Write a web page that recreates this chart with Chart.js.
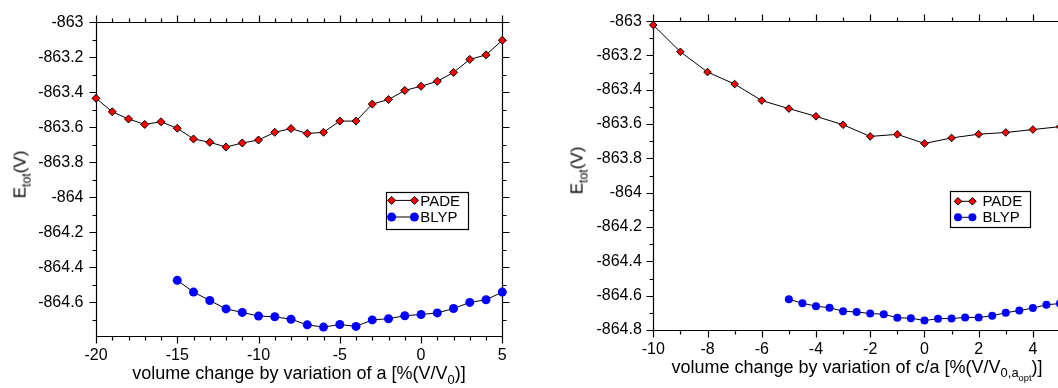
<!DOCTYPE html>
<html><head><meta charset="utf-8">
<script src="https://cdn.jsdelivr.net/npm/chart.js@4.4.1/dist/chart.umd.min.js"></script>
<style>
html,body{margin:0;padding:0;background:#fff;width:1058px;height:388px;overflow:hidden;position:relative;font-family:'Liberation Sans',Arial,sans-serif;}
.wrap{position:absolute;top:0;height:388px;}
.t{position:absolute;white-space:nowrap;color:#000;}
.xt{font-size:18px;line-height:18px;text-align:center;}
.yt{font-size:17px;line-height:17px;text-align:center;width:80px;height:17px;transform:rotate(-90deg);transform-origin:center center;}
sub{font-size:72%;vertical-align:baseline;position:relative;top:0.38em;}
</style></head><body>
<div class="wrap" style="left:0;width:529px"><canvas id="c1" width="529" height="388"></canvas></div>
<div class="wrap" style="left:529px;width:560px"><canvas id="c2" width="560" height="388"></canvas></div>
<div class="t xt" style="left:0;width:598px;top:364px">volume change by variation of a [%(V/V<sub>0</sub>)]</div>
<div class="t xt" style="left:557px;width:600px;top:357.5px">volume change by variation of c/a [%(V/V<sub>0,a<sub>opt</sub></sub>)]</div>
<div class="t yt" style="left:-20.3px;top:165.5px">E<sub>tot</sub>(V)</div>
<div class="t yt" style="left:537px;top:161.5px">E<sub>tot</sub>(V)</div>
<script>
// ---- data (left: variation of a) ----
const leftPadeX = [-20,-19,-18,-17,-16,-15,-14,-13,-12,-11,-10,-9,-8,-7,-6,-5,-4,-3,-2,-1,0,1,2,3,4,5];
const leftPade  = [-863.435,-863.512,-863.553,-863.584,-863.569,-863.606,-863.667,-863.686,-863.713,-863.690,-863.673,-863.629,-863.608,-863.636,-863.629,-863.565,-863.565,-863.468,-863.442,-863.390,-863.366,-863.338,-863.287,-863.213,-863.187,-863.104];
const leftBlypX = [-15,-14,-13,-12,-11,-10,-9,-8,-7,-6,-5,-4,-3,-2,-1,0,1,2,3,4,5];
const leftBlyp  = [-864.474,-864.541,-864.589,-864.637,-864.657,-864.678,-864.682,-864.696,-864.728,-864.741,-864.726,-864.737,-864.700,-864.693,-864.676,-864.669,-864.660,-864.635,-864.600,-864.585,-864.541];
// ---- data (right: variation of c/a) ----
const rightPadeX = [-10,-9,-8,-7,-6,-5,-4,-3,-2,-1,0,1,2,3,4,5];
const rightPade  = [-863.023,-863.179,-863.297,-863.367,-863.463,-863.510,-863.555,-863.604,-863.672,-863.660,-863.713,-863.681,-863.659,-863.649,-863.632,-863.615];
const rightBlypX = [-5,-4.5,-4,-3.5,-3,-2.5,-2,-1.5,-1,-0.5,0,0.5,1,1.5,2,2.5,3,3.5,4,4.5,5];
const rightBlyp  = [-864.621,-864.644,-864.661,-864.670,-864.691,-864.695,-864.704,-864.708,-864.729,-864.731,-864.745,-864.734,-864.733,-864.727,-864.727,-864.717,-864.699,-864.687,-864.672,-864.653,-864.646];
// ---- tick labels ----
const leftXTicks  = [-20,-15,-10,-5,0,5];
const leftYTicks  = [-863,-863.2,-863.4,-863.6,-863.8,-864,-864.2,-864.4,-864.6];
const rightXTicks = [-10,-8,-6,-4,-2,0,2,4];
const rightYTicks = [-863,-863.2,-863.4,-863.6,-863.8,-864,-864.2,-864.4,-864.6,-864.8];
const seriesNames = ['PADE','BLYP'];

const FONT = "'Liberation Sans', Arial, sans-serif";

const pts = (xs, ys) => xs.map((x, i) => ({x, y: ys[i]}));

const framePlugin = {
  id: 'frame',
  beforeDatasetsDraw(chart, args, o) {
    const ctx = chart.ctx, a = chart.chartArea, xs = chart.scales.x, ys = chart.scales.y;
    ctx.save();
    ctx.strokeStyle = '#000'; ctx.lineWidth = 1.2;
    const L = Math.round(a.left) + 0.5, R = Math.round(a.right) + 0.5, T = Math.round(a.top) + 0.5, B = Math.round(a.bottom) + 0.5;
    ctx.beginPath();
    ctx.rect(L, T, R - L, B - T);
    const isMaj = (v, m) => Math.abs(v / m - Math.round(v / m)) < 1e-6;
    for (let k = Math.ceil(xs.min / o.xMinor - 1e-9); k * o.xMinor <= xs.max + 1e-9; k++) {
      const v = k * o.xMinor, len = isMaj(v, o.xMajor) ? o.maj : o.min;
      const px = Math.round(xs.getPixelForValue(v)) + 0.5;
      ctx.moveTo(px, B); ctx.lineTo(px, B + len);
      ctx.moveTo(px, T); ctx.lineTo(px, T - len);
    }
    for (let k = Math.ceil(ys.min / o.yMinor - 1e-9); k * o.yMinor <= ys.max + 1e-9; k++) {
      const v = k * o.yMinor, len = isMaj(v, o.yMajor) ? o.maj : o.min;
      const py = Math.round(ys.getPixelForValue(v)) + 0.5;
      ctx.moveTo(L, py); ctx.lineTo(L - len, py);
      ctx.moveTo(R, py); ctx.lineTo(R + len, py);
    }
    ctx.stroke();
    ctx.restore();
  }
};

const legendPlugin = {
  id: 'boxLegend',
  afterDraw(chart, args, o) {
    const ctx = chart.ctx, a = chart.chartArea;
    const x0 = Math.round(a.left + o.dx), y0 = Math.round(a.top + o.dy);
    ctx.save();
    ctx.fillStyle = '#fff'; ctx.fillRect(x0, y0, o.w, o.h);
    ctx.strokeStyle = '#000'; ctx.lineWidth = 1.2; ctx.strokeRect(x0 + 0.5, y0 + 0.5, o.w, o.h);
    chart.data.datasets.forEach((ds, i) => {
      const y = y0 + o.rows[i];
      const xa = x0 + o.m1, xb = x0 + o.m2;
      ctx.strokeStyle = '#000'; ctx.lineWidth = 1;
      ctx.beginPath(); ctx.moveTo(xa, y); ctx.lineTo(xb, y); ctx.stroke();
      [xa, xb].forEach(px => {
        ctx.fillStyle = ds.pointBackgroundColor;
        ctx.strokeStyle = ds.pointBorderColor;
        ctx.lineWidth = ds.pointBorderWidth;
        Chart.helpers.drawPoint(ctx, {pointStyle: ds.pointStyle, radius: ds.pointRadius, borderWidth: ds.pointBorderWidth, rotation: 0}, px, y);
      });
      ctx.fillStyle = '#000';
      ctx.font = o.font + 'px ' + FONT;
      ctx.textBaseline = 'middle'; ctx.textAlign = 'left';
      ctx.fillText(ds.label, x0 + o.tx, y + 1);
    });
    ctx.restore();
  }
};

function labelFmt(v) { return String(Math.round(v * 10) / 10); }

function makeChart(id, cfg) {
  return new Chart(document.getElementById(id), {
    type: 'line',
    data: {
      datasets: [
        {label: seriesNames[0], data: pts(cfg.padeX, cfg.pade), borderColor: '#000', borderWidth: 1,
         pointStyle: 'rectRot', pointRadius: cfg.rPade, pointBackgroundColor: '#ff0000', pointBorderColor: '#000', pointBorderWidth: 1,
         tension: 0, clip: false},
        {label: seriesNames[1], data: pts(cfg.blypX, cfg.blyp), borderColor: '#000', borderWidth: 1,
         pointStyle: 'circle', pointRadius: cfg.rBlyp, pointBackgroundColor: '#0000ff', pointBorderColor: '#0000ff', pointBorderWidth: 0,
         tension: 0, clip: false}
      ]
    },
    options: {
      responsive: false, animation: false, events: [],
      layout: {padding: {top: cfg.top, right: cfg.right, left: 0, bottom: 0}},
      plugins: {legend: {display: false}, tooltip: {enabled: false}, frame: cfg.frame, boxLegend: cfg.legend},
      scales: {
        x: {type: 'linear', min: cfg.xmin, max: cfg.xmax,
            afterBuildTicks: s => { s.ticks = cfg.xTicks.map(v => ({value: v})); },
            afterFit: s => { s.height = cfg.xh; },
            ticks: {color: '#000', font: {family: FONT, size: 16}, padding: 10, maxRotation: 0, autoSkip: false, callback: labelFmt},
            grid: {display: false, drawTicks: false, tickLength: 0}, border: {display: false}},
        y: {type: 'linear', min: cfg.ymin, max: cfg.ymax,
            afterBuildTicks: s => { s.ticks = cfg.yTicks.map(v => ({value: v})); },
            afterFit: s => { s.width = cfg.yw; },
            ticks: {color: '#000', font: {family: FONT, size: 16}, padding: cfg.ypad, autoSkip: false, callback: labelFmt},
            grid: {display: false, drawTicks: false, tickLength: 0}, border: {display: false}}
      }
    },
    plugins: [framePlugin, legendPlugin]
  });
}

makeChart('c1', {
  padeX: leftPadeX, pade: leftPade, blypX: leftBlypX, blyp: leftBlyp,
  rPade: 4, rBlyp: 4.5,
  xmin: -20, xmax: 5, ymin: -864.79, ymax: -863,
  xTicks: leftXTicks, yTicks: leftYTicks,
  top: 12.3, right: 26.7, xh: 52.3, yw: 96, ypad: 12.5,
  frame: {xMinor: 1, xMajor: 5, yMinor: 0.1, yMajor: 0.2, maj: 7, min: 4},
  legend: {dx: 289.7, dy: 170, w: 82, h: 37, m1: 5.6, m2: 28.4, tx: 34.3, rows: [8.4, 25], font: 15}
});

makeChart('c2', {
  padeX: rightPadeX, pade: rightPade, blypX: rightBlypX, blyp: rightBlyp,
  rPade: 3.8, rBlyp: 4,
  xmin: -10, xmax: 5, ymin: -864.8, ymax: -863,
  xTicks: rightXTicks, yTicks: rightYTicks,
  top: 11, right: 29, xh: 58, yw: 124.3, ypad: 11.5,
  frame: {xMinor: 1, xMajor: 2, yMinor: 0.1, yMajor: 0.2, maj: 7, min: 4},
  legend: {dx: 297, dy: 170, w: 80, h: 36, m1: 8, m2: 22.4, tx: 32.4, rows: [10.3, 26.3], font: 15}
});
</script>
</body></html>
